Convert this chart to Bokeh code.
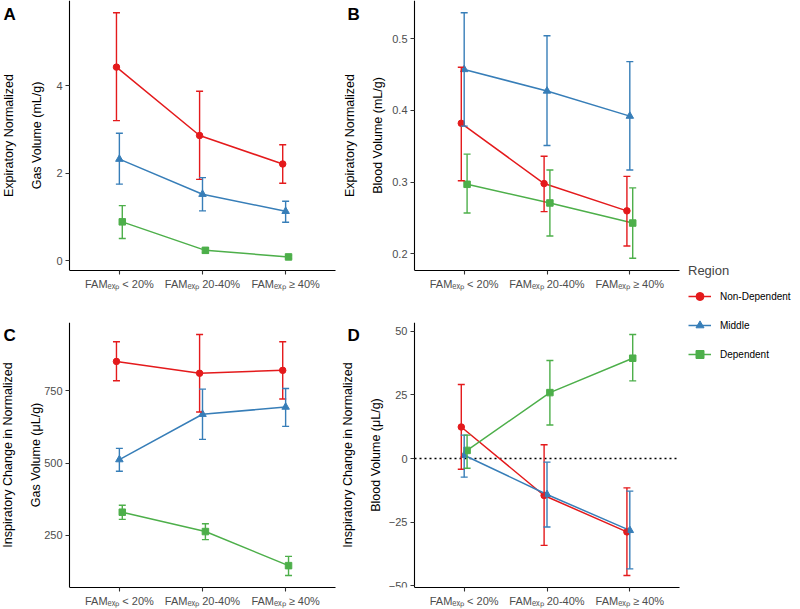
from bokeh.plotting import figure
from bokeh.models import (Range1d, FixedTicker, Whisker, TeeHead, ColumnDataSource,
                          Label, Legend, LegendItem)
from bokeh.layouts import row, column
from bokeh.embed import file_html
from bokeh.resources import INLINE

# ---------------- data ----------------
categories = ["FAM\u2091\u2093\u209a < 20%", "FAM\u2091\u2093\u209a 20-40%", "FAM\u2091\u2093\u209a \u2265 40%"]
regions = ["Non-Dependent", "Middle", "Dependent"]
colors = ["#E41A1C", "#377EB8", "#4DAF4A"]
markers = ["circle", "triangle", "square"]

# Panel A: Expiratory normalized gas volume (mL/g)
a_nd = [4.42, 2.86, 2.21]; a_nd_lo = [3.20, 1.86, 1.77]; a_nd_hi = [5.66, 3.87, 2.65]
a_mi = [2.32, 1.52, 1.13]; a_mi_lo = [1.75, 1.14, 0.88]; a_mi_hi = [2.91, 1.90, 1.36]
a_de = [0.89, 0.24, 0.09]; a_de_lo = [0.51, 0.18, 0.06]; a_de_hi = [1.26, 0.30, 0.12]

# Panel B: Expiratory normalized blood volume (mL/g)
b_nd = [0.382, 0.298, 0.260]; b_nd_lo = [0.302, 0.259, 0.211]; b_nd_hi = [0.460, 0.336, 0.308]
b_mi = [0.457, 0.427, 0.392]; b_mi_lo = [0.378, 0.351, 0.317]; b_mi_hi = [0.536, 0.504, 0.468]
b_de = [0.297, 0.271, 0.243]; b_de_lo = [0.257, 0.225, 0.194]; b_de_hi = [0.339, 0.317, 0.292]

# Panel C: Inspiratory change in normalized gas volume (uL/g)
c_nd = [852, 811, 821]; c_nd_lo = [785, 677, 722]; c_nd_hi = [920, 945, 920]
c_mi = [512, 669, 694]; c_mi_lo = [472, 582, 627]; c_mi_hi = [551, 756, 758]
c_de = [330, 263, 145]; c_de_lo = [305, 235, 111]; c_de_hi = [354, 290, 177]

# Panel D: Inspiratory change in normalized blood volume (uL/g)
d_nd = [12.4, -14.5, -28.8]; d_nd_lo = [-4.2, -34.1, -45.9]; d_nd_hi = [29.1, 5.4, -11.5]
d_mi = [1.3, -14.1, -28.2]; d_mi_lo = [-7.3, -26.9, -43.3]; d_mi_hi = [9.2, -1.4, -12.8]
d_de = [3.2, 25.9, 39.4]; d_de_lo = [-3.8, 13.2, 30.5]; d_de_hi = [9.2, 38.5, 48.7]

a_ticks = [0, 2, 4]
b_ticks = [0.2, 0.3, 0.4, 0.5]
c_ticks = [250, 500, 750]
d_ticks = [-50, -25, 0, 25, 50]

FONT = "Liberation Sans"
dodge = [-0.035, 0.0, 0.035]
sizes = {"circle": 6.5, "triangle": 7.5, "square": 6.5}
X0, X1 = 0.4, 3.6  # discrete axis limits (ggplot style)


def make_panel(letter, ylabel, series, ticks, width, height, axis_px, br, bt, bb,
               label_standoff, letter_dx, letter_dy, zero=False):
    allv = [v for s in series for arr in s for v in arr]
    lo, hi = min(allv), max(allv)
    ex = (hi - lo) * 0.05
    frame_w = width - br
    ppu = (frame_w - axis_px) / (X1 - X0)
    x_start = X0 - axis_px / ppu
    p = figure(width=width, height=height, output_backend="svg", toolbar_location=None,
               x_range=Range1d(x_start, X1), y_range=Range1d(lo - ex, hi + ex),
               min_border_left=0, min_border_right=br, min_border_top=bt, min_border_bottom=bb)
    p.xgrid.visible = False
    p.ygrid.visible = False
    p.outline_line_color = None
    p.background_fill_color = "white"
    p.border_fill_color = "white"

    for ax in (p.xaxis[0], p.yaxis[0]):
        ax.axis_line_color = "black"
        ax.axis_line_width = 1.1
        ax.major_tick_line_color = "#333333"
        ax.major_tick_line_width = 1.1
        ax.major_tick_out = 4
        ax.major_tick_in = 0
        ax.minor_tick_out = 0
        ax.minor_tick_in = 0
        ax.major_label_text_font = FONT
        ax.major_label_text_font_size = "11px"
        ax.major_label_text_color = "#4D4D4D"
        ax.major_label_standoff = 3
    p.xaxis.ticker = FixedTicker(ticks=[1, 2, 3])
    p.xaxis.bounds = (X0, X1)
    p.xaxis.major_label_overrides = {i + 1: c for i, c in enumerate(categories)}
    p.yaxis.ticker = FixedTicker(ticks=ticks)
    p.yaxis.fixed_location = X0
    p.yaxis.axis_label = ylabel
    p.yaxis.axis_label_text_font = FONT
    p.yaxis.axis_label_text_font_size = "12.5px"
    p.yaxis.axis_label_text_font_style = "normal"
    p.yaxis.axis_label_text_color = "black"
    p.yaxis.axis_label_text_line_height = 2.0
    p.yaxis.axis_label_standoff = label_standoff

    if zero:
        p.segment(x0=[X0], x1=[X1], y0=[0], y1=[0], line_color="black",
                  line_dash="2 3", line_width=1.5)

    for k, (mean, low, high) in enumerate(series):
        xs = [i + 1 + dodge[k] for i in range(3)]
        src = ColumnDataSource(dict(x=xs, y=mean, lo=low, hi=high))
        col = colors[k]
        p.add_layout(Whisker(base="x", upper="hi", lower="lo", source=src,
                             line_color=col, line_width=1.4,
                             upper_head=TeeHead(size=7, line_color=col, line_width=1.4),
                             lower_head=TeeHead(size=7, line_color=col, line_width=1.4),
                             level="glyph"))
        p.line("x", "y", source=src, line_color=col, line_width=1.5)
        p.scatter("x", "y", source=src, marker=markers[k], size=sizes[markers[k]],
                  fill_color=col, line_color=col)

    p.add_layout(Label(x=x_start, y=hi + ex, x_offset=letter_dx, y_offset=letter_dy,
                       text=letter, text_font=FONT, text_font_style="bold",
                       text_font_size="17px", text_baseline="top", text_align="left",
                       text_color="black"))
    return p


pA = make_panel("A", "Expiratory Normalized\nGas Volume (mL/g)",
                [(a_nd, a_nd_lo, a_nd_hi), (a_mi, a_mi_lo, a_mi_hi), (a_de, a_de_lo, a_de_hi)],
                a_ticks, 340, 300, 69, 5, 0, 30, 9, 3, -4)
pB = make_panel("B", "Expiratory Normalized\nBlood Volume (mL/g)",
                [(b_nd, b_nd_lo, b_nd_hi), (b_mi, b_mi_lo, b_mi_hi), (b_de, b_de_lo, b_de_hi)],
                b_ticks, 345, 300, 74, 6, 0, 30, 4, 7, -4)
pC = make_panel("C", "Inspiratory Change in Normalized\nGas Volume (\u03bcL/g)",
                [(c_nd, c_nd_lo, c_nd_hi), (c_mi, c_mi_lo, c_mi_hi), (c_de, c_de_lo, c_de_hi)],
                c_ticks, 340, 309, 69, 5, 22, 20, -2, 3, -3)
pD = make_panel("D", "Inspiratory Change in Normalized\nBlood Volume (\u03bcL/g)",
                [(d_nd, d_nd_lo, d_nd_hi), (d_mi, d_mi_lo, d_mi_hi), (d_de, d_de_lo, d_de_hi)],
                d_ticks, 345, 309, 74, 6, 22, 20, 3, 7, -3, zero=True)

# legend panel
lf = figure(width=115, height=609, output_backend="svg", toolbar_location=None,
            x_range=Range1d(0, 1), y_range=Range1d(0, 1),
            min_border_left=0, min_border_right=0, min_border_top=0, min_border_bottom=0)
lf.axis.visible = False
lf.xgrid.visible = False
lf.ygrid.visible = False
lf.outline_line_color = None
items = []
for k, r in enumerate(regions):
    ln = lf.line([5, 6], [5, 6], line_color=colors[k], line_width=1.5)
    sc = lf.scatter([5], [5], marker=markers[k], size=sizes[markers[k]],
                    fill_color=colors[k], line_color=colors[k])
    items.append(LegendItem(label=r, renderers=[ln, sc]))
leg = Legend(items=items, title="Region", location=(3, 245),
             title_text_font=FONT, title_text_font_size="13px", title_text_font_style="normal",
             title_standoff=8,
             label_text_font=FONT, label_text_font_size="10px", label_text_color="black",
             glyph_width=23, glyph_height=20, label_height=20, spacing=9, label_standoff=9,
             padding=4, margin=0, border_line_color=None, background_fill_alpha=0)
lf.add_layout(leg)

layout = row(column(pA, pC), column(pB, pD), lf)
open("out.html", "w").write(file_html(layout, INLINE))
